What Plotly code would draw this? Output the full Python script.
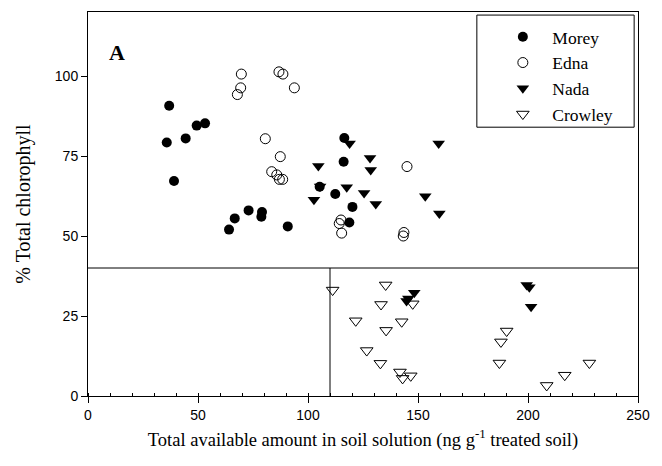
import plotly.graph_objects as go

# Data
morey_x = [36.9, 35.8, 44.4, 49.4, 53.2, 39.1, 64.1, 66.7, 73.0, 79.1, 78.8, 90.8, 105.3, 116.5, 116.2, 112.4, 120.2, 118.8]
morey_y = [90.7, 79.2, 80.5, 84.5, 85.2, 67.2, 52.0, 55.5, 58.0, 57.5, 56.0, 53.0, 65.4, 80.6, 73.2, 63.1, 59.1, 54.2]

edna_x = [69.7, 69.4, 67.9, 86.8, 88.6, 93.8, 80.6, 87.4, 83.5, 85.8, 87.0, 88.5, 145.0, 115.0, 114.2, 115.3, 143.6, 143.3]
edna_y = [100.6, 96.3, 94.2, 101.3, 100.6, 96.3, 80.4, 74.8, 70.1, 69.1, 67.7, 67.7, 71.7, 55.0, 53.9, 50.9, 51.1, 50.0]

nada_x = [104.7, 102.7, 105.5, 118.9, 128.2, 128.5, 117.6, 125.5, 130.8, 159.4, 153.3, 159.7,
          199.4, 200.6, 201.4, 148.3, 145.6, 144.8]
nada_y = [71.9, 61.3, 65.5, 78.9, 74.4, 70.6, 65.2, 63.4, 60.0, 78.9, 62.4, 57.0,
          34.7, 34.0, 27.9, 32.3, 30.5, 29.7]

crowley_x = [111.2, 135.3, 133.2, 147.6, 121.7, 142.6, 135.5, 126.7, 132.9, 141.8, 143.0, 146.7,
             190.3, 187.7, 187.0, 208.5, 216.7, 227.9]
crowley_y = [33.1, 34.7, 28.6, 28.8, 23.5, 23.2, 20.5, 14.2, 10.2, 7.5, 5.5, 6.3,
             20.3, 16.9, 10.3, 3.3, 6.5, 10.3]

x_ticks = [0, 50, 100, 150, 200, 250]
y_ticks = [0, 25, 50, 75, 100]
divider_y = 40
divider_x = 110

fig = go.Figure()
fig.add_trace(go.Scatter(x=morey_x, y=morey_y, mode="markers", name="Morey",
                         marker=dict(symbol="circle", size=10, color="black")))
fig.add_trace(go.Scatter(x=edna_x, y=edna_y, mode="markers", name="Edna",
                         marker=dict(symbol="circle-open", size=10, color="black", line=dict(width=1))))
fig.add_trace(go.Scatter(x=nada_x, y=nada_y, mode="markers", name="Nada",
                         marker=dict(symbol="triangle-down", size=11, color="black")))
fig.add_trace(go.Scatter(x=crowley_x, y=crowley_y, mode="markers", name="Crowley",
                         marker=dict(symbol="triangle-down-open", size=11, color="black", line=dict(width=1))))

# divider lines
fig.add_shape(type="line", xref="x", yref="y", x0=0, x1=250, y0=divider_y, y1=divider_y,
              line=dict(color="black", width=1))
fig.add_shape(type="line", xref="x", yref="y", x0=divider_x, x1=divider_x, y0=0, y1=divider_y,
              line=dict(color="black", width=1))
# legend box
fig.add_shape(type="rect", xref="paper", yref="paper", x0=0.707, x1=0.993, y0=0.70, y1=0.992,
              line=dict(color="black", width=1), fillcolor="rgba(0,0,0,0)")

fig.add_annotation(x=13.2, y=107.5, xref="x", yref="y", text="<b>A</b>", showarrow=False,
                   font=dict(family="Liberation Serif", size=22, color="black"))

fig.update_layout(
    width=662, height=466,
    margin=dict(l=88, r=24, t=12, b=70),
    paper_bgcolor="white", plot_bgcolor="white",
    showlegend=True,
    legend=dict(x=0.737, y=0.982, xanchor="left", yanchor="top",
                font=dict(family="Liberation Serif", size=17.5, color="black"),
                bgcolor="rgba(0,0,0,0)", borderwidth=0, itemwidth=49),
)
fig.update_xaxes(range=[0, 250], tickvals=x_ticks, ticks="outside", ticklen=6, tickcolor="black",
                 showline=True, mirror=True, linecolor="black", linewidth=1, showgrid=False, zeroline=False,
                 tickfont=dict(family="Liberation Sans", size=14, color="black"),
                 minor=dict(dtick=10, ticks="inside", ticklen=3, tickcolor="black", showgrid=False),
                 title=dict(text="Total available amount in soil solution (ng g<sup>-1</sup> treated soil)",
                            font=dict(family="Liberation Serif", size=18.5, color="black"), standoff=11))
fig.update_yaxes(range=[0, 120], tickvals=y_ticks, ticks="outside", ticklen=6, tickcolor="black",
                 showline=True, mirror=True, linecolor="black", linewidth=1, showgrid=False, zeroline=False,
                 tickfont=dict(family="Liberation Sans", size=14, color="black"),
                 title=dict(text="% Total chlorophyll",
                            font=dict(family="Liberation Serif", size=20, color="black"), standoff=18))

fig.write_html("out.html")
